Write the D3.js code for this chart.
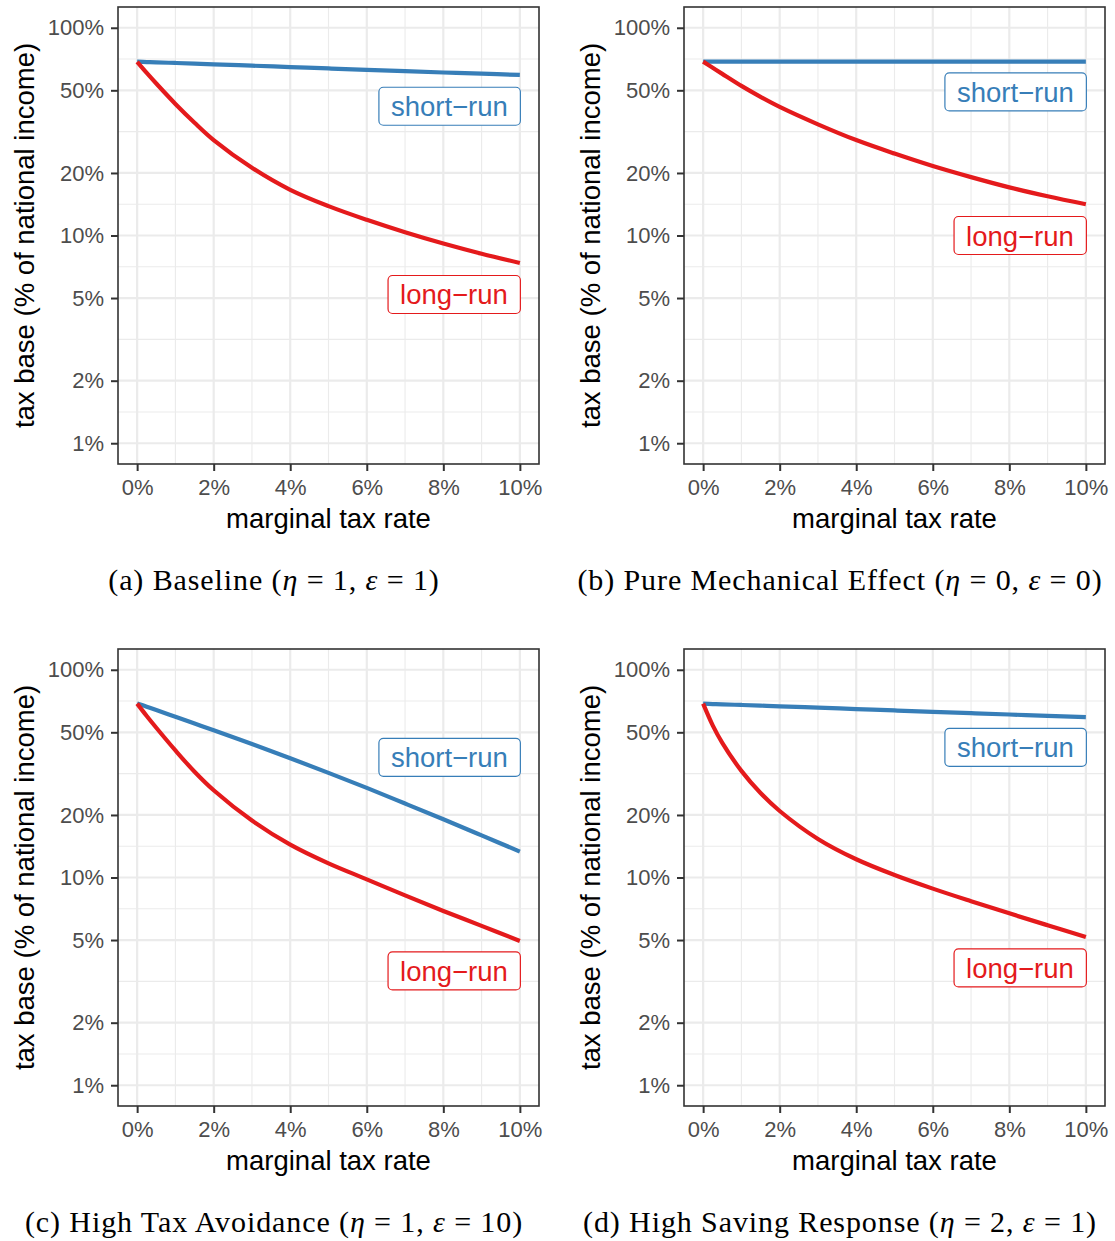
<!DOCTYPE html>
<html>
<head>
<meta charset="utf-8">
<script src="https://cdn.jsdelivr.net/npm/d3@7"></script>
<style>
  html, body { margin: 0; padding: 0; background: #ffffff; }
  svg { display: block; }
</style>
</head>
<body>
<svg id="chart" width="1115" height="1241"></svg>
<script>
// ---------- data (values in % of national income) ----------
const taxRate = [0, 0.25, 0.5, 1, 1.5, 2, 3, 4, 5, 6, 7, 8, 9, 10];

const shortRunA = [68.7, 68.4, 68.2, 67.7, 67.2, 66.7, 65.7, 64.7, 63.7, 62.7, 61.8, 60.9, 60.1, 59.3];
const longRunA  = [68.5, 60.6, 53.9, 43.0, 34.9, 28.8, 21.2, 16.6, 13.85, 11.9, 10.37, 9.15, 8.17, 7.37];

const shortRunB = [68.7, 68.7, 68.7, 68.7, 68.7, 68.7, 68.7, 68.7, 68.7, 68.7, 68.7, 68.7, 68.7, 68.7];
const longRunB  = [68.7, 64.2, 60.0, 52.5, 46.5, 41.6, 34.3, 28.8, 24.8, 21.6, 19.1, 17.05, 15.45, 14.15];

const shortRunC = [68.9, 66.4, 64.0, 59.4, 55.1, 51.1, 43.9, 37.5, 31.9, 27.0, 22.7, 19.06, 15.95, 13.33];
const longRunC  = [68.7, 59.9, 52.6, 40.9, 32.3, 26.3, 18.8, 14.4, 11.7, 9.8, 8.2, 6.9, 5.85, 4.95];

const shortRunD = [68.7, 68.4, 68.2, 67.7, 67.2, 66.7, 65.7, 64.7, 63.7, 62.7, 61.8, 60.9, 60.0, 59.1];
const longRunD  = [68.7, 54.0, 44.5, 32.6, 25.5, 20.9, 15.33, 12.24, 10.28, 8.84, 7.69, 6.72, 5.89, 5.17];

// label anchor heights (data units)
const shortLabelY = [41.9, 49.1, 37.9, 42.3];
const longLabelY  = [5.2, 10.0, 3.55, 3.67];

const panelLetters = ["(a)", "(b)", "(c)", "(d)"];
const panelNames   = ["Baseline", "Pure Mechanical Effect", "High Tax Avoidance", "High Saving Response"];
const etaValues    = ["1", "0", "1", "2"];
const epsValues    = ["1", "0", "10", "1"];

const xTicks = [0, 2, 4, 6, 8, 10];
const xMinorTicks = [1, 3, 5, 7, 9];
const yTicks = [1, 2, 5, 10, 20, 50, 100];
const yMinorTicks = [Math.sqrt(2), Math.sqrt(10), Math.sqrt(50), Math.sqrt(200), Math.sqrt(1000), Math.sqrt(5000)];

const seriesNames = ["short\u2212run", "long\u2212run"];

// ---------- layout ----------
const BLUE = "#377EB8", RED = "#E41A1C";
const SANS = "'Liberation Sans', Arial, Helvetica, sans-serif";
const SERIF = "'Liberation Serif', 'Times New Roman', serif";
const PW = 421, PH = 457;
const lefts = [118, 684], tops = [7, 649];

const shorts = [shortRunA, shortRunB, shortRunC, shortRunD];
const longs = [longRunA, longRunB, longRunC, longRunD];

const svg = d3.select("#chart");
svg.append("rect").attr("width", 1115).attr("height", 1241).attr("fill", "#fff");

const x = d3.scaleLinear().domain([-0.5, 10.5]).range([0, PW]);
const y = d3.scaleLog().domain([Math.pow(10, -0.1), Math.pow(10, 2.1)]).range([PH, 0]);

for (let i = 0; i < 4; i++) {
  const px = lefts[i % 2], py = tops[Math.floor(i / 2)];
  const g = svg.append("g").attr("transform", `translate(${px},${py})`);

  // grid
  const grid = g.append("g");
  grid.selectAll(".vmin").data(xMinorTicks).join("line")
    .attr("x1", d => x(d)).attr("x2", d => x(d)).attr("y1", 0).attr("y2", PH)
    .attr("stroke", "#EBEBEB").attr("stroke-width", 1.1);
  grid.selectAll(".hmin").data(yMinorTicks).join("line")
    .attr("y1", d => y(d)).attr("y2", d => y(d)).attr("x1", 0).attr("x2", PW)
    .attr("stroke", "#EBEBEB").attr("stroke-width", 1.1);
  grid.selectAll(".vmaj").data(xTicks).join("line")
    .attr("x1", d => x(d)).attr("x2", d => x(d)).attr("y1", 0).attr("y2", PH)
    .attr("stroke", "#EBEBEB").attr("stroke-width", 2.2);
  grid.selectAll(".hmaj").data(yTicks).join("line")
    .attr("y1", d => y(d)).attr("y2", d => y(d)).attr("x1", 0).attr("x2", PW)
    .attr("stroke", "#EBEBEB").attr("stroke-width", 2.2);

  // lines
  const line = d3.line().x((d, j) => x(taxRate[j])).y(d => y(d)).curve(d3.curveCatmullRom.alpha(0.5));
  g.append("path").datum(shorts[i]).attr("d", line)
    .attr("fill", "none").attr("stroke", BLUE).attr("stroke-width", 4.2);
  g.append("path").datum(longs[i]).attr("d", line)
    .attr("fill", "none").attr("stroke", RED).attr("stroke-width", 4.2);

  // labels
  const labelData = [
    { text: seriesNames[0], v: shortLabelY[i], c: BLUE },
    { text: seriesNames[1], v: longLabelY[i], c: RED }
  ];
  labelData.forEach(L => {
    const lg = g.append("g");
    const rect = lg.append("rect");
    const t = lg.append("text")
      .attr("font-family", SANS).attr("font-size", 27.5)
      .attr("fill", L.c).attr("text-anchor", "end")
      .attr("x", x(10) - 12).attr("y", y(L.v) + 10)
      .text(L.text);
    const w = t.node().getComputedTextLength();
    rect.attr("x", x(10) - w - 24).attr("y", y(L.v) - 19)
      .attr("width", w + 24.5).attr("height", 38)
      .attr("rx", 4.5).attr("ry", 4.5)
      .attr("fill", "#fff").attr("stroke", L.c).attr("stroke-width", 1.2);
  });

  // panel border
  g.append("rect").attr("x", 0).attr("y", 0).attr("width", PW).attr("height", PH)
    .attr("fill", "none").attr("stroke", "#333333").attr("stroke-width", 1.6);

  // axes
  const xa = g.append("g").attr("transform", `translate(0,${PH})`)
    .call(d3.axisBottom(x).tickValues(xTicks).tickFormat(d => d + "%").tickSize(7).tickPadding(8));
  const ya = g.append("g")
    .call(d3.axisLeft(y).tickValues(yTicks).tickFormat(d => d + "%").tickSize(7).tickPadding(7));
  [xa, ya].forEach(a => {
    a.select(".domain").remove();
    a.selectAll(".tick line").attr("stroke", "#333333").attr("stroke-width", 2);
    a.selectAll(".tick text").attr("fill", "#4D4D4D").attr("font-family", SANS).attr("font-size", 22);
  });

  // axis titles
  g.append("text").attr("x", PW / 2).attr("y", PH + 64)
    .attr("text-anchor", "middle").attr("font-family", SANS).attr("font-size", 27.5).attr("fill", "#000")
    .text("marginal tax rate");
  g.append("text").attr("transform", `translate(-84,${PH / 2}) rotate(-90)`)
    .attr("text-anchor", "middle").attr("font-family", SANS).attr("font-size", 27.5).attr("fill", "#000")
    .text("tax base (% of national income)");

  // caption
  const cap = g.append("text").attr("x", PW / 2 - 54.5).attr("y", PH + 126)
    .attr("text-anchor", "middle").attr("font-family", SERIF).attr("font-size", 30)
    .attr("letter-spacing", 0.9).attr("fill", "#000");
  cap.append("tspan").text(panelLetters[i] + " " + panelNames[i] + " (");
  cap.append("tspan").attr("font-style", "italic").text("\u03B7");
  cap.append("tspan").text(" = " + etaValues[i] + ", ");
  cap.append("tspan").attr("font-style", "italic").text("\u03B5");
  cap.append("tspan").text(" = " + epsValues[i] + ")");
}
</script>
</body>
</html>
